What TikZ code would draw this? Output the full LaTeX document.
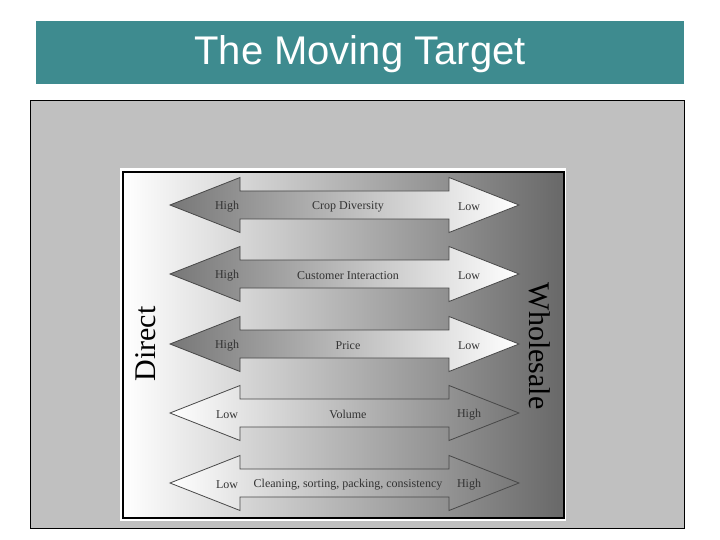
\documentclass[tikz,border=0pt]{standalone}
\usepackage{fontspec}
\setmainfont{Liberation Serif}
\setsansfont{Liberation Sans}
\definecolor{titleteal}{RGB}{62,139,143}
\definecolor{panelgray}{RGB}{192,192,192}
\definecolor{deepgray}{RGB}{104,104,104}
\definecolor{edgegray}{RGB}{72,72,72}
\usetikzlibrary{positioning}

% double-headed arrow centred on a given row
\newcommand{\rowarrow}[2]{%
  \draw[arrowbody, #2] (170,#1) -- (240,#1-27.5) -- (240,#1-14) -- (449,#1-14)
    -- (449,#1-27.5) -- (519,#1) -- (449,#1+27.5) -- (449,#1+14)
    -- (240,#1+14) -- (240,#1+27.5) -- cycle;}

\tikzset{
  arrowbody/.style={draw=edgegray, line width=0.8pt},
  rowlabel/.style={font=\fontsize{12}{14}\selectfont, text=black!80, inner sep=0pt, yshift=-1.5pt},
  sidelabel/.style={font=\fontsize{30}{34}\selectfont, inner sep=0pt},
}

\begin{document}
\begin{tikzpicture}[x=1pt, y=-1pt]
    \useasboundingbox (0,0) rectangle (720,540);

    % Title
    \fill[titleteal] (36,21) rectangle (684,84);
    \node[font=\sffamily\fontsize{40}{44}\selectfont, text=white, inner sep=0pt] (title) at (360,54) {The Moving Target};

    % Panel
    \draw[fill=panelgray, line width=1pt] (30,101) rectangle (684,528);
    \fill[white] (120,168) rectangle (566,521);
    \draw[line width=2pt, left color=white, right color=deepgray] (123,172) rectangle (564,518);

    % Arrows
    \foreach \yc/\lft/\txt/\rgt [count=\i] in {205/High/Crop Diversity/Low, 274/High/Customer Interaction/Low, 344/High/Price/Low} {
        \rowarrow{\yc}{left color=deepgray!90, right color=white}
        \node[rowlabel] (lft\i) at (227,\yc) {\lft};
        \node[rowlabel] (txt\i) at (348,\yc) {\txt};
        \node[rowlabel] (rgt\i) at (469,\yc) {\rgt};
    }
    \foreach \yc/\lft/\txt/\rgt [count=\i from 4] in {413/Low/Volume/High, 483/Low/{Cleaning, sorting, packing, consistency}/High} {
        \rowarrow{\yc}{left color=white, right color=deepgray!90}
        \node[rowlabel] (lft\i) at (227,\yc) {\lft};
        \node[rowlabel] (txt\i) at (348,\yc) {\txt};
        \node[rowlabel] (rgt\i) at (469,\yc) {\rgt};
    }

    % Side labels
    \node[sidelabel, rotate=90] (direct) at (146,344) {Direct};
    \node[sidelabel, rotate=-90] (wholesale) at (540,346) {Wholesale};
\end{tikzpicture}
\end{document}
